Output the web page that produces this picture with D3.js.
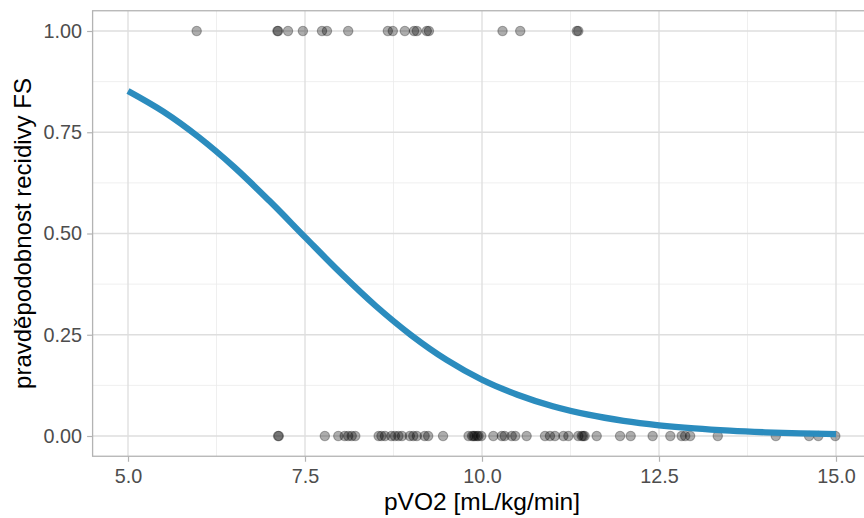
<!DOCTYPE html>
<html>
<head>
<meta charset="utf-8">
<script src="https://cdn.jsdelivr.net/npm/d3@7"></script>
<style>
body { margin: 0; background: #fff; }
svg { display: block; font-family: "Liberation Sans", Arial, sans-serif; }
</style>
</head>
<body>
<div id="chart"></div>
<script>
// observed pVO2 values, recidiva = 1
var pvo2Yes = [5.97, 7.11, 7.12, 7.26, 7.47, 7.74, 7.81, 8.11, 8.67, 8.74, 8.91, 9.04, 9.08, 9.22, 9.25, 10.29, 10.54, 11.34, 11.36];
// observed pVO2 values, recidiva = 0
var pvo2No = [7.12, 7.13, 7.78, 7.97, 8.06, 8.11, 8.16, 8.21, 8.54, 8.58, 8.63, 8.72, 8.77, 8.82, 8.87, 8.98, 9.03, 9.08,
  9.19, 9.24, 9.45, 9.81, 9.86, 9.88, 9.90, 9.93, 9.95, 9.99, 10.16, 10.28, 10.32, 10.42, 10.47, 10.63, 10.89, 10.96, 11.03,
  11.15, 11.22, 11.36, 11.41, 11.43, 11.45, 11.62, 11.95, 12.10, 12.41, 12.66, 12.82, 12.87, 12.94, 13.33, 14.15, 14.62, 14.75, 14.99];
// fitted curve
var curveX = [5, 5.5, 6, 6.5, 7, 7.5, 8, 8.5, 9, 9.5, 10, 10.5, 11, 11.5, 12, 12.5, 13, 13.5, 14, 14.5, 15];
var curveP = [0.852, 0.801, 0.738, 0.664, 0.580, 0.491, 0.403, 0.321, 0.249, 0.188, 0.139, 0.102, 0.0735, 0.0526, 0.0374, 0.0265, 0.0187, 0.0131, 0.0092, 0.0065, 0.0045];
var xTicks = [5, 7.5, 10, 12.5, 15];
var yTicks = [0, 0.25, 0.5, 0.75, 1];

var W = 864, H = 518;
var L = 92.6, R = 871.4, T = 10.75, B = 456.25;

var svg = d3.select('#chart').append('svg').attr('width', W).attr('height', H);

var x = d3.scaleLinear().domain([4.5, 15.5]).range([L, R]);
var y = d3.scaleLinear().domain([-0.05, 1.05]).range([B, T]);

var grid = svg.append('g');
var xMinor = [6.25, 8.75, 11.25, 13.75], yMinor = [0.125, 0.375, 0.625, 0.875];
grid.selectAll('.vmin').data(xMinor).enter().append('line')
  .attr('x1', x).attr('x2', x).attr('y1', T).attr('y2', B)
  .attr('stroke', '#ebebeb').attr('stroke-width', 0.8);
grid.selectAll('.hmin').data(yMinor).enter().append('line')
  .attr('y1', y).attr('y2', y).attr('x1', L).attr('x2', R)
  .attr('stroke', '#ebebeb').attr('stroke-width', 0.8);
grid.selectAll('.vmaj').data(xTicks).enter().append('line')
  .attr('x1', x).attr('x2', x).attr('y1', T).attr('y2', B)
  .attr('stroke', '#dedede').attr('stroke-width', 1.3);
grid.selectAll('.hmaj').data(yTicks).enter().append('line')
  .attr('y1', y).attr('y2', y).attr('x1', L).attr('x2', R)
  .attr('stroke', '#dedede').attr('stroke-width', 1.3);

var pts = pvo2Yes.map(function(v) { return {x: v, y: 1}; })
  .concat(pvo2No.map(function(v) { return {x: v, y: 0}; }));
svg.append('g').selectAll('circle').data(pts).enter().append('circle')
  .attr('cx', function(d) { return x(d.x); })
  .attr('cy', function(d) { return y(d.y); })
  .attr('r', 4.7)
  .attr('fill', 'rgba(0,0,0,0.32)')
  .attr('stroke', 'rgba(0,0,0,0.3)')
  .attr('stroke-width', 1.1);

var line = d3.line()
  .x(function(d, i) { return x(curveX[i]); })
  .y(function(d) { return y(d); })
  .curve(d3.curveCatmullRom);
svg.append('path').datum(curveP)
  .attr('d', line)
  .attr('fill', 'none')
  .attr('stroke', '#2b8cbe')
  .attr('stroke-width', 6.3);

svg.append('rect').attr('x', L).attr('y', T).attr('width', R - L).attr('height', B - T)
  .attr('fill', 'none').attr('stroke', '#b3b3b3').attr('stroke-width', 1.3);

var xAxis = svg.append('g').attr('transform', 'translate(0,' + B + ')')
  .call(d3.axisBottom(x).tickValues(xTicks).tickFormat(d3.format('.1f')).tickSize(5.5).tickPadding(7.5));
var yAxis = svg.append('g').attr('transform', 'translate(' + L + ',0)')
  .call(d3.axisLeft(y).tickValues(yTicks).tickFormat(d3.format('.2f')).tickSize(5.5).tickPadding(5));
[xAxis, yAxis].forEach(function(a) {
  a.select('.domain').remove();
  a.selectAll('.tick line').attr('stroke', '#b3b3b3').attr('stroke-width', 1.2);
  a.selectAll('.tick text').attr('fill', '#4d4d4d').style('font-size', '19.8px').style('font-family', '"Liberation Sans", Arial, sans-serif');
});

svg.append('text').attr('x', (L + R) / 2).attr('y', 510)
  .attr('text-anchor', 'middle').style('font-size', '24.5px').text('pVO2 [mL/kg/min]');
svg.append('text').attr('transform', 'translate(30.5,' + (T + B) / 2 + ') rotate(-90)')
  .attr('text-anchor', 'middle').style('font-size', '24px').text('pravděpodobnost recidivy FS');
</script>
</body>
</html>
